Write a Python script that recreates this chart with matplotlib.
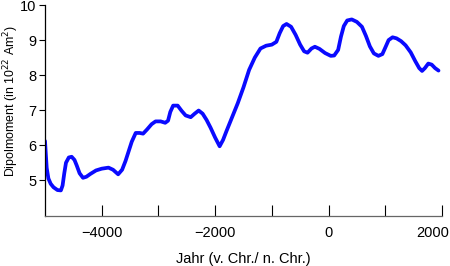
import matplotlib
matplotlib.use("Agg")
import matplotlib.pyplot as plt
from matplotlib.ticker import FixedLocator
from matplotlib.transforms import ScaledTranslation

# Jahr (negativ = v. Chr.) und Dipolmoment in 10^22 Am^2
jahr = [-5000, -4970, -4940, -4900, -4850, -4780, -4720, -4690, -4660, -4630,
        -4580, -4530, -4480, -4440, -4390, -4330, -4270, -4200, -4100, -4000,
        -3880, -3800, -3710, -3640, -3580, -3520, -3470, -3400, -3330, -3270,
        -3200, -3120, -3050, -2960, -2880, -2830, -2790, -2740, -2660, -2590,
        -2520, -2430, -2360, -2290, -2220, -2150, -2080, -2000, -1920, -1860,
        -1800, -1700, -1600, -1500, -1400, -1300, -1200, -1100, -1000, -920,
        -860, -800, -740, -660, -580, -500, -430, -370, -300, -240,
        -160, -60, 40, 100, 170, 220, 270, 330, 410, 500,
        590, 660, 730, 800, 880, 950, 1000, 1060, 1130, 1200,
        1280, 1360, 1450, 1530, 1600, 1650, 1700, 1760, 1820, 1880,
        1940]
dipol = [6.12, 5.35, 5.05, 4.90, 4.80, 4.72, 4.71, 4.85, 5.20, 5.50,
         5.65, 5.67, 5.58, 5.42, 5.20, 5.07, 5.10, 5.18, 5.28, 5.33,
         5.36, 5.30, 5.17, 5.30, 5.55, 5.85, 6.10, 6.35, 6.35, 6.33,
         6.45, 6.60, 6.68, 6.68, 6.64, 6.70, 6.95, 7.13, 7.13, 6.98,
         6.85, 6.80, 6.90, 6.99, 6.90, 6.72, 6.50, 6.22, 5.97, 6.15,
         6.40, 6.80, 7.20, 7.65, 8.15, 8.50, 8.76, 8.84, 8.87, 8.95,
         9.20, 9.40, 9.46, 9.38, 9.15, 8.87, 8.68, 8.64, 8.76, 8.81,
         8.75, 8.63, 8.55, 8.56, 8.72, 9.10, 9.40, 9.56, 9.59, 9.52,
         9.38, 9.12, 8.82, 8.62, 8.55, 8.60, 8.78, 9.00, 9.08, 9.05,
         8.97, 8.85, 8.65, 8.40, 8.20, 8.12, 8.20, 8.33, 8.30, 8.20,
         8.13]

x_major = [-4000, -2000, 0, 2000]
x_minor = [-3000, -1000, 1000]
y_ticks = [5, 6, 7, 8, 9, 10]

plt.rcParams['font.family'] = ['Liberation Sans', 'DejaVu Sans']
plt.rcParams['font.size'] = 10.5

fig = plt.figure(figsize=(4.5, 2.66), dpi=100)
ax = fig.add_axes([0.1, 0.188, 0.882, 0.793])

ax.plot(jahr, dipol, color='#0a0aff', linewidth=2.7,
        solid_capstyle='round', solid_joinstyle='round')

ax.set_xlim(-5000, 2000)
ax.set_ylim(3.98, 10)

ax.spines['top'].set_visible(False)
ax.spines['right'].set_visible(False)
ax.spines['left'].set_linewidth(0.9)
ax.spines['bottom'].set_linewidth(0.9)
ax.spines['bottom'].set_color('#666666')

ax.xaxis.set_major_locator(FixedLocator(x_major))
ax.xaxis.set_minor_locator(FixedLocator(x_minor))
ax.set_yticks(y_ticks)
ax.tick_params(axis='x', which='both', direction='in', length=8, width=0.8, pad=7)
ax.tick_params(axis='y', direction='out', length=4.5, width=0.8, pad=1.5)

ax.set_xlabel('Jahr (v. Chr./ n. Chr.)', labelpad=9)
ax.set_ylabel('Dipolmoment (in 10$^{22}$ Am$^{2}$)', fontsize=8.9)
ax.yaxis.set_label_coords(-0.06, 0.545)

# letzte Beschriftung "2000" etwas nach links, damit sie ins Bild passt
fig.canvas.draw()
last = ax.get_xticklabels()[-1]
last.set_transform(last.get_transform() + ScaledTranslation(-0.09, 0, fig.dpi_scale_trans))

fig.savefig('out.png', dpi=100)
